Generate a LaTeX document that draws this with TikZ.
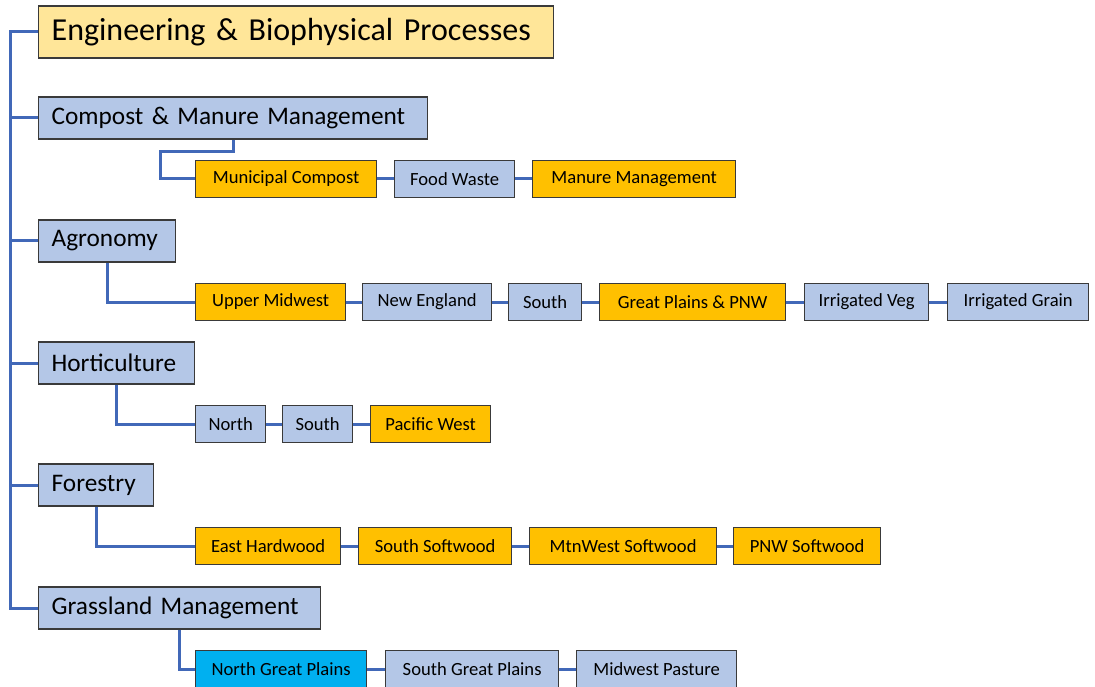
\documentclass[tikz,border=0pt]{standalone}
\usepackage{fontspec}
\setmainfont{Carlito}
\definecolor{lblue}{HTML}{B4C7E7}
\definecolor{orng}{HTML}{FFC000}
\definecolor{lyel}{HTML}{FFE699}
\definecolor{cyanb}{HTML}{00B0F0}
\definecolor{lineblue}{HTML}{4168B8}
\definecolor{edge}{HTML}{3A3A3A}
\tikzset{
  box/.style={draw=edge, line width=1.3pt, anchor=west, inner sep=0pt},
  titlebox/.style={box, fill=lyel, minimum height=52pt, inner xsep=13pt, align=left, font=\fontsize{32}{35}\selectfont},
  topbox/.style={box, fill=lblue, minimum height=42pt, inner xsep=13pt, align=left, font=\fontsize{25.3}{29}\selectfont},
  subbox/.style={box, minimum height=37pt, align=center, font=\fontsize{18.6}{22}\selectfont},
  bl/.style={subbox, fill=lblue},
  og/.style={subbox, fill=orng},
  cy/.style={subbox, fill=cyanb},
  conn/.style={draw=lineblue, line width=3pt},
}
\begin{document}
\begin{tikzpicture}[x=1pt,y=-1pt]
\useasboundingbox (0,0) rectangle (1095,687);
\clip (0,0) rectangle (1095,687);
% top level
\node[titlebox, text width=489pt] (title) at (38,32) {\mbox{Engineering \& Biophysical Processes}};
\node[topbox, text width=363pt] (comp) at (38,118) {\mbox{Compost \& Manure Management}};
\node[topbox, text width=111pt] (agr) at (38,241) {\mbox{Agronomy}};
\node[topbox, text width=130pt] (hort) at (38,363) {\mbox{Horticulture}};
\node[topbox, text width=89pt] (for) at (38,485) {\mbox{Forestry}};
\node[topbox, text width=256pt] (grass) at (38,608) {\mbox{Grassland Management}};
% compost row
\node[og, minimum width=181pt] (mc) at (195,179) {Municipal Compost};
\node[bl, minimum width=120pt] (fw) at (394,179) {Food Waste};
\node[og, minimum width=203pt] (mm) at (532,179) {Manure Management};
% agronomy row
\node[og, minimum width=150pt] (um) at (195,302) {Upper Midwest};
\node[bl, minimum width=129pt] (ne) at (362,302) {New England};
\node[bl, minimum width=73pt] (as) at (508,302) {South};
\node[og, minimum width=186pt] (gp) at (599,302) {Great Plains \& PNW};
\node[bl, minimum width=124pt] (iv) at (804,302) {Irrigated Veg};
\node[bl, minimum width=141pt] (ig) at (947,302) {Irrigated Grain};
% horticulture row
\node[bl, minimum width=70pt] (hn) at (195,424) {North};
\node[bl, minimum width=70pt] (hs) at (282,424) {South};
\node[og, minimum width=120pt] (pw) at (370,424) {Pacific West};
% forestry row
\node[og, minimum width=145pt] (eh) at (195,546) {East Hardwood};
\node[og, minimum width=153pt] (ss) at (358,546) {South Softwood};
\node[og, minimum width=187pt] (mw) at (529,546) {MtnWest Softwood};
\node[og, minimum width=147pt] (ps) at (733,546) {PNW Softwood};
% grassland row
\node[cy, minimum width=171pt] (ngp) at (195,669) {North Great Plains};
\node[bl, minimum width=173pt] (sgp) at (385,669) {South Great Plains};
\node[bl, minimum width=160pt] (mp) at (576,669) {Midwest Pasture};
% trunk
\coordinate (trunk) at (10,0);
\coordinate (cbend) at (160,152);
\draw[conn] (title.west) -| (trunk |- grass.west) -- (grass.west);
\draw[conn] (trunk |- comp.west) -- (comp.west);
\draw[conn] (trunk |- agr.west) -- (agr.west);
\draw[conn] (trunk |- hort.west) -- (hort.west);
\draw[conn] (trunk |- for.west) -- (for.west);
% branch connectors
\draw[conn] (comp.south) |- (cbend) |- (mc.west);
\draw[conn] (agr.south) |- (um.west);
\draw[conn] (hort.south) |- (hn.west);
\draw[conn] (for.south) |- (eh.west);
\draw[conn] (grass.south) |- (ngp.west);
% row connectors
\draw[conn] (mc.east) -- (fw.west);
\draw[conn] (fw.east) -- (mm.west);
\draw[conn] (um.east) -- (ne.west);
\draw[conn] (ne.east) -- (as.west);
\draw[conn] (as.east) -- (gp.west);
\draw[conn] (gp.east) -- (iv.west);
\draw[conn] (iv.east) -- (ig.west);
\draw[conn] (hn.east) -- (hs.west);
\draw[conn] (hs.east) -- (pw.west);
\draw[conn] (eh.east) -- (ss.west);
\draw[conn] (ss.east) -- (mw.west);
\draw[conn] (mw.east) -- (ps.west);
\draw[conn] (ngp.east) -- (sgp.west);
\draw[conn] (sgp.east) -- (mp.west);
\end{tikzpicture}
\end{document}
